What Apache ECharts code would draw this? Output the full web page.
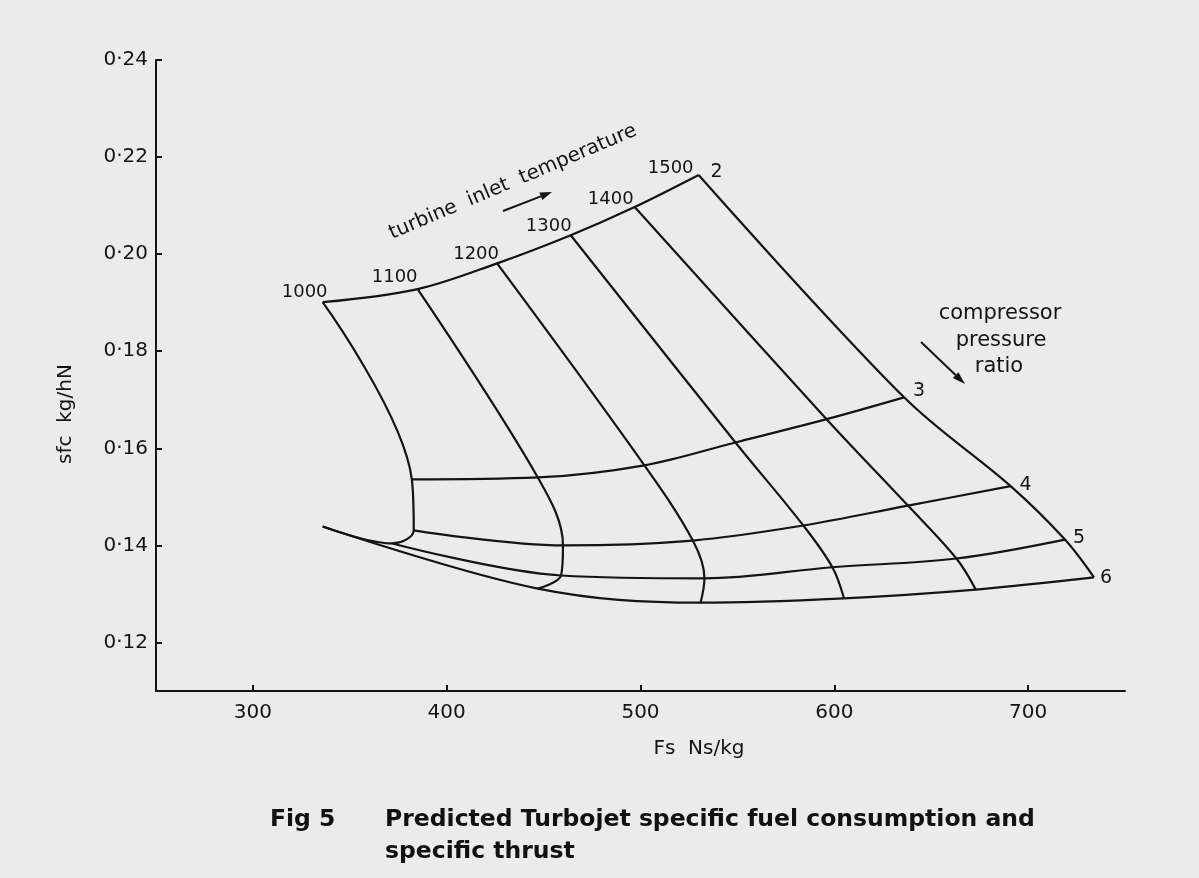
<!DOCTYPE html>
<html>
<head>
<meta charset="utf-8">
<script src="https://cdn.jsdelivr.net/npm/echarts@6/dist/echarts.min.js"></script>
<style>
  html, body { margin: 0; padding: 0; background: #ebebeb; }
  #chart { width: 1199px; height: 878px; }
</style>
</head>
<body>
<div id="chart"></div>
<script>
// ---- data ----
const temps = [1000, 1100, 1200, 1300, 1400, 1500];          // turbine inlet temperature (K)
const ratios = [2, 3, 4, 5, 6];                               // compressor pressure ratio
// specific thrust Fs (Ns/kg): one array per pressure ratio, columns = temperature
const fsRatio2 = [336, 385, 426, 464, 497, 530];
const fsRatio3 = [382, 447, 502, 549, 596, 636];
const fsRatio4 = [383, 460, 527, 584, 638, 691];
const fsRatio5 = [372, 459, 533, 599, 663, 719];
const fsRatio6 = [336, 447, 531, 605, 673, 734];
// sfc (kg/hN)
const sfcRatio2 = [0.1901, 0.1928, 0.1981, 0.2039, 0.2097, 0.2163];
const sfcRatio3 = [0.1536, 0.1540, 0.1565, 0.1612, 0.1660, 0.1705];
const sfcRatio4 = [0.1431, 0.1400, 0.1410, 0.1441, 0.1482, 0.1522];
const sfcRatio5 = [0.1404, 0.1338, 0.1332, 0.1355, 0.1373, 0.1412];
const sfcRatio6 = [0.1439, 0.1311, 0.1282, 0.1291, 0.1309, 0.1334];
const xTicks = [300, 400, 500, 600, 700];
const yTicks = [0.12, 0.14, 0.16, 0.18, 0.20, 0.22, 0.24];

const fs = [fsRatio2, fsRatio3, fsRatio4, fsRatio5, fsRatio6];
const sfc = [sfcRatio2, sfcRatio3, sfcRatio4, sfcRatio5, sfcRatio6];

// ---- styles ----
const INK = '#141414';
const FONT = 'DejaVu Sans';
const tempLabelOffsets = [[-18, -10], [-23, -12], [-21, -9], [-22, -9], [-24, -8], [-28, -7]];
const ratioLabelOffsets = [[18, -3], [15, -6], [15, -1], [14, -1], [12, 1]];

const series = [];
temps.forEach((t, j) => {
  series.push({
    type: 'line', name: 'T ' + t, silent: true, showSymbol: false, smooth: 0.35,
    lineStyle: { color: INK, width: 2.2 },
    data: ratios.map((r, i) => [fs[i][j], sfc[i][j]])
  });
});
ratios.forEach((r, i) => {
  series.push({
    type: 'line', name: 'PR ' + r, silent: true, showSymbol: false, smooth: 0.35,
    lineStyle: { color: INK, width: 2.2 },
    data: temps.map((t, j) => [fs[i][j], sfc[i][j]])
  });
});

function arrow(x1, y1, x2, y2, len, half) {
  const dx = x2 - x1, dy = y2 - y1, L = Math.hypot(dx, dy);
  const ux = dx / L, uy = dy / L;
  const bx = x2 - ux * len, by = y2 - uy * len;
  return [
    { type: 'line', silent: true, shape: { x1: x1, y1: y1, x2: bx, y2: by }, style: { stroke: INK, lineWidth: 2 } },
    { type: 'polygon', silent: true, shape: { points: [[x2, y2], [bx - uy * half, by + ux * half], [bx + uy * half, by - ux * half]] },
      style: { fill: INK } }
  ];
}
function txt(x, y, text, font, extra) {
  return Object.assign({ type: 'text', silent: true, x: x, y: y,
    style: { text: text, fill: INK, font: font, align: 'center', verticalAlign: 'middle' } }, extra || {});
}

const chart = echarts.init(document.getElementById('chart'), null, { renderer: 'canvas' });
const baseGraphics = [
  txt(699, 749, 'Fs  Ns/kg', '20px "DejaVu Sans"'),
  txt(66, 414, 'sfc  kg/hN', '20px "DejaVu Sans"', { rotation: Math.PI / 2 }),
  txt(513, 182, 'turbine  inlet  temperature', '20px "DejaVu Sans"', { rotation: 23 * Math.PI / 180 }),
  ...arrow(503, 211, 552, 192, 12, 4),
  txt(1000, 314, 'compressor', '21px "DejaVu Sans"'),
  txt(1001, 341, 'pressure', '21px "DejaVu Sans"'),
  txt(999, 367, 'ratio', '21px "DejaVu Sans"'),
  ...arrow(921, 342, 965, 384, 13, 4),
  { type: 'text', silent: true, x: 270, y: 820,
    style: { text: 'Fig 5', fill: '#111', font: 'bold 23.5px "DejaVu Sans"', align: 'left', verticalAlign: 'middle' } },
  { type: 'text', silent: true, x: 385, y: 820,
    style: { text: 'Predicted Turbojet specific fuel consumption and', fill: '#111', font: 'bold 23.5px "DejaVu Sans"', align: 'left', verticalAlign: 'middle' } },
  { type: 'text', silent: true, x: 385, y: 852,
    style: { text: 'specific thrust', fill: '#111', font: 'bold 23.5px "DejaVu Sans"', align: 'left', verticalAlign: 'middle' } }
];

chart.setOption({
  backgroundColor: '#ebebeb',
  animation: false,
  grid: { left: 156, top: 60, width: 969, height: 631, containLabel: false },
  xAxis: {
    type: 'value', min: 250, max: 750,
    axisLine: { onZero: false, lineStyle: { color: INK, width: 2 } },
    axisTick: { inside: true, length: 6, customValues: xTicks, lineStyle: { color: INK, width: 2 } },
    axisLabel: { customValues: xTicks, margin: 12, color: INK, fontFamily: FONT, fontSize: 20 },
    splitLine: { show: false }
  },
  yAxis: {
    type: 'value', min: 0.11, max: 0.24,
    axisLine: { onZero: false, lineStyle: { color: INK, width: 2 } },
    axisTick: { inside: true, length: 6, customValues: yTicks, lineStyle: { color: INK, width: 2 } },
    axisLabel: { customValues: yTicks, margin: 8, color: INK, fontFamily: FONT, fontSize: 20,
                 formatter: v => v.toFixed(2).replace('.', '·') },
    splitLine: { show: false }
  },
  series: series
});

// carpet labels placed at the data points through the chart's own scales
const labelGraphics = [];
temps.forEach((t, j) => {
  const p = chart.convertToPixel({ gridIndex: 0 }, [fs[0][j], sfc[0][j]]);
  labelGraphics.push(txt(p[0] + tempLabelOffsets[j][0], p[1] + tempLabelOffsets[j][1], String(t), '18px "DejaVu Sans"'));
});
ratios.forEach((r, i) => {
  const last = temps.length - 1;
  const p = chart.convertToPixel({ gridIndex: 0 }, [fs[i][last], sfc[i][last]]);
  labelGraphics.push(txt(p[0] + ratioLabelOffsets[i][0], p[1] + ratioLabelOffsets[i][1], String(r), '19px "DejaVu Sans"'));
});
chart.setOption({ graphic: baseGraphics.concat(labelGraphics) });
</script>
</body>
</html>
